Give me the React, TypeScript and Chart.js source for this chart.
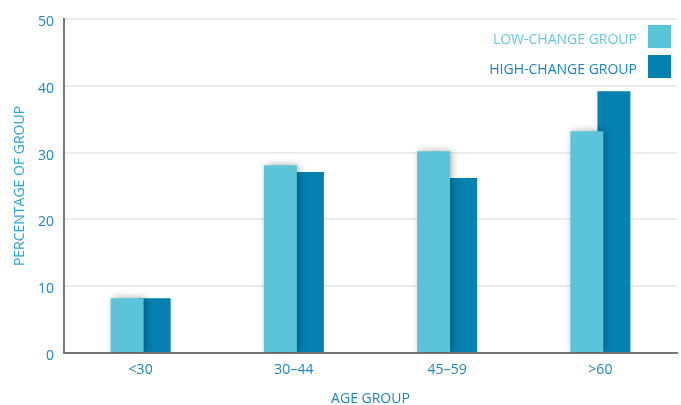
import React, { useEffect, useRef } from "react";
import { Chart, registerables } from "chart.js";

Chart.register(...registerables);

const categories = ["<30", "30–44", "45–59", ">60"];
const lowChange = [8.2, 28.1, 30.2, 33.2];
const highChange = [8.2, 27.1, 26.2, 39.2];
const seriesNames = ["LOW-CHANGE GROUP", "HIGH-CHANGE GROUP"];
const yTitle = "PERCENTAGE OF GROUP";
const xTitle = "AGE GROUP";

const LIGHT = "#5BC4D8";
const DARK = "#0581B0";
const TEXT = "#1A86BD";
const FONT = "'Open Sans', sans-serif";

const shadowPlugin = {
  id: "barShadow",
  beforeDatasetDraw(chart: any, args: any) {
    if (args.index === 0) {
      const ctx = chart.ctx;
      ctx.save();
      ctx.shadowColor = "rgba(0,0,0,0.35)";
      ctx.shadowBlur = 7;
      ctx.shadowOffsetX = 2;
      ctx.shadowOffsetY = 0;
    }
  },
  afterDatasetDraw(chart: any, args: any) {
    if (args.index === 0) chart.ctx.restore();
  },
};

const legendPlugin = {
  id: "customLegend",
  afterDraw(chart: any) {
    const ctx = chart.ctx;
    const right = chart.chartArea.right;
    const items = [
      { text: seriesNames[0], color: LIGHT, textColor: "#66C8DF" },
      { text: seriesNames[1], color: DARK, textColor: TEXT },
    ];
    ctx.save();
    ctx.font = `14px ${FONT}`;
    ctx.textAlign = "right";
    ctx.textBaseline = "middle";
    items.forEach((it, i) => {
      const top = 25 + i * 30;
      const boxRight = right - 6;
      ctx.fillStyle = it.color;
      ctx.fillRect(boxRight - 23, top, 23, 23);
      ctx.fillStyle = it.textColor;
      ctx.fillText(it.text, boxRight - 34, top + 15);
    });
    ctx.restore();
  },
};

export default function App() {
  const ref = useRef<HTMLCanvasElement>(null);
  useEffect(() => {
    if (!ref.current) return;
    const chart = new Chart(ref.current, {
      type: "bar",
      data: {
        labels: categories,
        datasets: [
          {
            label: seriesNames[0],
            data: lowChange,
            backgroundColor: LIGHT,
            categoryPercentage: 0.353,
            barPercentage: 1.22,
          },
          {
            label: seriesNames[1],
            data: highChange,
            backgroundColor: DARK,
            categoryPercentage: 0.353,
            barPercentage: 1.22,
          },
        ],
      },
      options: {
        animation: false,
        responsive: true,
        maintainAspectRatio: false,
        layout: { padding: { top: 19, right: 4, left: 0, bottom: 0 } },
        plugins: { legend: { display: false }, tooltip: { enabled: false } },
        scales: {
          x: {
            grid: { display: false, drawTicks: false },
            border: { color: "#777777", width: 2 },
            ticks: { color: TEXT, font: { family: FONT, size: 14 }, padding: 9 },
            title: {
              display: true,
              text: xTitle,
              color: TEXT,
              font: { family: FONT, size: 14 },
              padding: { top: 4, bottom: -2 },
            },
            afterFit(scale: any) {
              scale.height = 52;
            },
          },
          y: {
            min: 0,
            max: 50,
            ticks: {
              stepSize: 10,
              color: TEXT,
              font: { family: FONT, size: 14 },
              padding: 10,
              labelOffset: 3,
            },
            grid: { color: "#EBEBEB", lineWidth: 2, drawTicks: false },
            border: { color: "#777777", width: 2 },
            title: {
              display: true,
              text: yTitle,
              color: "#2AA5D6",
              font: { family: FONT, size: 14 },
              padding: { top: 12, bottom: 0 },
            },
            afterFit(scale: any) {
              scale.width = 64;
            },
          },
        },
      },
      plugins: [shadowPlugin, legendPlugin],
    });
    return () => chart.destroy();
  }, []);
  return (
    <div style={{ position: "fixed", left: 0, top: 0, width: 681, height: 405, background: "#fff" }}>
      <canvas ref={ref} />
    </div>
  );
}
